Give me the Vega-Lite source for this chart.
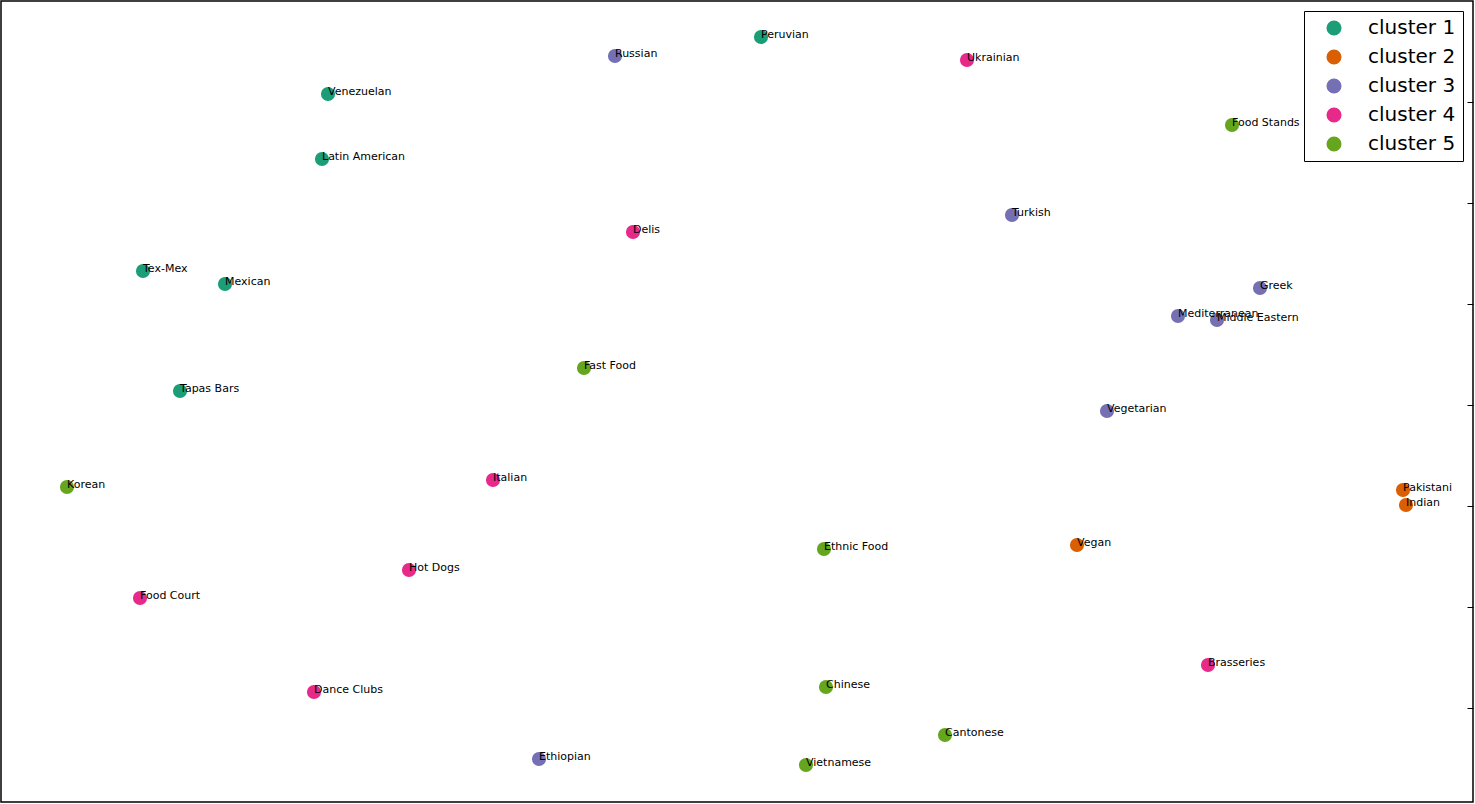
{
  "$schema": "https://vega.github.io/schema/vega-lite/v6.json",
  "width": 1472,
  "height": 801,
  "autosize": {"type": "none"},
  "padding": {"left": 1, "top": 1, "right": 2, "bottom": 2},
  "background": "white",
  "config": {
    "view": {"stroke": "black", "strokeWidth": 1.5},
    "font": "DejaVu Sans"
  },
  "data": {
    "values": [
      {"name": "Peruvian", "cluster": "cluster 1", "x": 761, "y": 37},
      {"name": "Venezuelan", "cluster": "cluster 1", "x": 328, "y": 94},
      {"name": "Latin American", "cluster": "cluster 1", "x": 322, "y": 159},
      {"name": "Tex-Mex", "cluster": "cluster 1", "x": 143, "y": 271},
      {"name": "Mexican", "cluster": "cluster 1", "x": 225, "y": 284},
      {"name": "Tapas Bars", "cluster": "cluster 1", "x": 180, "y": 391},
      {"name": "Pakistani", "cluster": "cluster 2", "x": 1403, "y": 490},
      {"name": "Indian", "cluster": "cluster 2", "x": 1406, "y": 505},
      {"name": "Vegan", "cluster": "cluster 2", "x": 1077, "y": 545},
      {"name": "Russian", "cluster": "cluster 3", "x": 615, "y": 56},
      {"name": "Turkish", "cluster": "cluster 3", "x": 1012, "y": 215},
      {"name": "Greek", "cluster": "cluster 3", "x": 1260, "y": 288},
      {"name": "Mediterranean", "cluster": "cluster 3", "x": 1178, "y": 316},
      {"name": "Middle Eastern", "cluster": "cluster 3", "x": 1217, "y": 320},
      {"name": "Vegetarian", "cluster": "cluster 3", "x": 1107, "y": 411},
      {"name": "Ethiopian", "cluster": "cluster 3", "x": 539, "y": 759},
      {"name": "Ukrainian", "cluster": "cluster 4", "x": 967, "y": 60},
      {"name": "Delis", "cluster": "cluster 4", "x": 633, "y": 232},
      {"name": "Italian", "cluster": "cluster 4", "x": 493, "y": 480},
      {"name": "Hot Dogs", "cluster": "cluster 4", "x": 409, "y": 570},
      {"name": "Food Court", "cluster": "cluster 4", "x": 140, "y": 598},
      {"name": "Dance Clubs", "cluster": "cluster 4", "x": 314, "y": 692},
      {"name": "Brasseries", "cluster": "cluster 4", "x": 1208, "y": 665},
      {"name": "Food Stands", "cluster": "cluster 5", "x": 1232, "y": 125},
      {"name": "Fast Food", "cluster": "cluster 5", "x": 584, "y": 368},
      {"name": "Korean", "cluster": "cluster 5", "x": 67, "y": 487},
      {"name": "Ethnic Food", "cluster": "cluster 5", "x": 824, "y": 549},
      {"name": "Chinese", "cluster": "cluster 5", "x": 826, "y": 687},
      {"name": "Cantonese", "cluster": "cluster 5", "x": 945, "y": 735},
      {"name": "Vietnamese", "cluster": "cluster 5", "x": 806, "y": 765}
    ]
  },
  "encoding": {
    "x": {"field": "x", "type": "quantitative", "scale": {"domain": [1, 1473], "nice": false, "zero": false}, "axis": null},
    "y": {"field": "y", "type": "quantitative", "scale": {"domain": [1, 802], "nice": false, "zero": false, "reverse": true},
      "axis": {"orient": "right", "values": [102, 203, 304, 405, 506, 607, 708], "labels": false, "domain": false, "grid": false, "ticks": true, "tickColor": "black", "tickSize": -6, "tickWidth": 1, "title": null}}
  },
  "layer": [
    {
      "mark": {"type": "circle", "size": 200, "opacity": 1},
      "encoding": {
        "color": {"field": "cluster", "type": "nominal",
          "scale": {"domain": ["cluster 1", "cluster 2", "cluster 3", "cluster 4", "cluster 5"], "range": ["#1b9e77", "#d95f02", "#7570b3", "#e7298a", "#66a61e"]},
          "legend": {"orient": "none", "legendX": 1303, "legendY": 10, "title": null, "symbolType": "circle", "symbolSize": 227, "symbolOpacity": 1, "symbolStrokeWidth": 0, "labelFontSize": 20, "labelFont": "DejaVu Sans", "labelColor": "black", "labelOffset": 24, "rowPadding": 9, "padding": 7, "symbolOffset": 13, "strokeColor": "black", "fillColor": "white", "cornerRadius": 0, "labelLimit": 300}
        }
      }
    },
    {
      "mark": {"type": "text", "align": "left", "baseline": "alphabetic", "dy": 1, "fontSize": 11, "font": "DejaVu Sans", "color": "black"},
      "encoding": {"text": {"field": "name"}}
    }
  ]
}
